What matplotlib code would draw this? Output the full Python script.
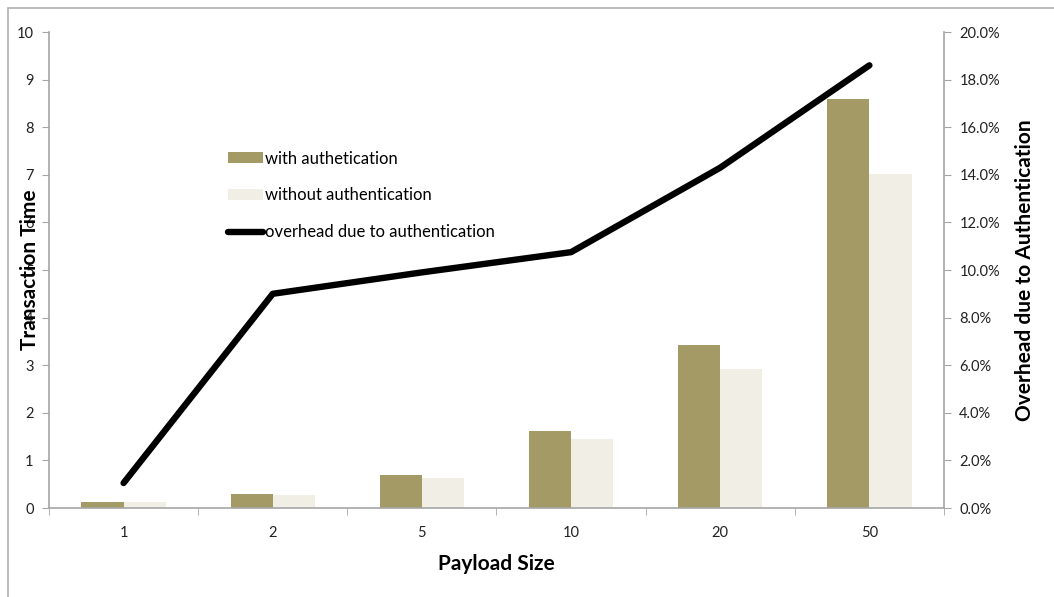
import matplotlib
matplotlib.use("Agg")
import matplotlib.pyplot as plt
import numpy as np
from matplotlib.patches import Rectangle
from matplotlib.ticker import FuncFormatter, FixedLocator

categories = ["1", "2", "5", "10", "20", "50"]
with_auth = [0.13, 0.30, 0.70, 1.62, 3.42, 8.60]
without_auth = [0.12, 0.27, 0.62, 1.44, 2.93, 7.02]
overhead_pct = [1.05, 9.0, 9.9, 10.75, 14.3, 18.6]

plt.rcParams['font.family'] = ['Lato', 'DejaVu Sans']

fig = plt.figure(figsize=(10.54, 5.97), dpi=100)
W, H = 1054, 597
ax = fig.add_axes([49 / W, 1 - 508 / H, (944 - 49) / W, (508 - 32) / H])

# outer frame
fig.patches.append(Rectangle((8 / W, -0.1), 1.2, 1 - 8 / H + 0.1, transform=fig.transFigure,
                             fill=False, edgecolor='#b0b0b0', linewidth=1.2))

x = np.arange(len(categories))
bw = 0.283
gray = '#a6a6a6'
c_with = '#a39a65'
c_without = '#f1eee6'

ax.bar(x - bw / 2, with_auth, width=bw, color=c_with, label='with authetication', zorder=2)
ax.bar(x + bw / 2, without_auth, width=bw, color=c_without, label='without authentication', zorder=2)

ax.set_xlim(-0.5, len(categories) - 0.5)
ax.set_ylim(0, 10)
ax.set_yticks(range(0, 11))
ax.set_xticks(x)
ax.set_xticklabels(categories)
ax.xaxis.set_minor_locator(FixedLocator(np.arange(-0.5, len(categories), 1.0)))
ax.tick_params(axis='x', which='major', length=0, pad=13, labelsize=10.5, colors='#222222')
ax.tick_params(axis='x', which='minor', length=5, color=gray, direction='out')
ax.tick_params(axis='y', length=5, color=gray, direction='out', labelsize=10.5, labelcolor='#222222', pad=6)

for s in ['top', 'right']:
    ax.spines[s].set_visible(False)
for s in ['left', 'bottom']:
    ax.spines[s].set_color(gray)
    ax.spines[s].set_linewidth(1.2)

ax2 = ax.twinx()
line, = ax2.plot(x, overhead_pct, color='black', linewidth=4.6, solid_capstyle='round',
                 label='overhead due to authentication', zorder=3)
ax2.set_ylim(0, 20)
ax2.set_yticks(np.arange(0, 21, 2))
ax2.yaxis.set_major_formatter(FuncFormatter(lambda v, p: f"{v:.1f}%"))
ax2.tick_params(axis='y', length=5, color=gray, direction='out', labelsize=10.5, labelcolor='#222222', pad=6)
for s in ['top', 'left', 'bottom']:
    ax2.spines[s].set_visible(False)
ax2.spines['right'].set_color(gray)
ax2.spines['right'].set_linewidth(1.2)

ax.set_xlabel('Payload Size', fontsize=15, fontweight='bold', labelpad=10)
fig.text(30 / W, 1 - 270 / H, 'Transaction Time', rotation=90, fontsize=15, fontweight='bold',
         ha='center', va='center')
fig.text(1025 / W, 1 - 270 / H, 'Overhead due to Authentication', rotation=90, fontsize=15,
         fontweight='bold', ha='center', va='center')

handles = [ax.containers[0], ax.containers[1], line]
labels = ['with authetication', 'without authentication', 'overhead due to authentication']
leg = ax2.legend(handles, labels, loc='upper left', bbox_to_anchor=(0.193, 0.765), frameon=False,
                 fontsize=12, labelspacing=1.25, handlelength=2.1, handletextpad=0.1,
                 borderaxespad=0, handleheight=0.6)

fig.savefig('out.png', dpi=100)
